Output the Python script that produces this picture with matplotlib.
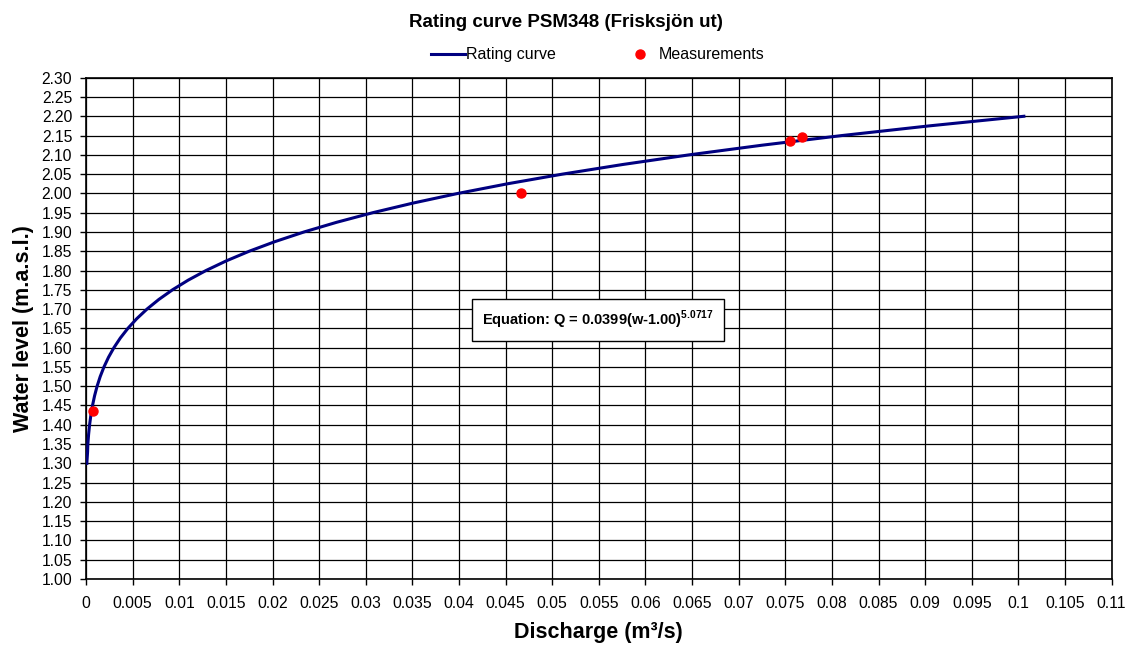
import matplotlib
matplotlib.use('Agg')
import matplotlib.pyplot as plt
from matplotlib.ticker import MultipleLocator, FuncFormatter

plt.rcParams['font.family'] = ['Liberation Sans', 'DejaVu Sans']
plt.rcParams['mathtext.fontset'] = 'custom'
plt.rcParams['mathtext.rm'] = 'Liberation Sans'
plt.rcParams['mathtext.bf'] = 'Liberation Sans:bold'

# rating curve points (water level, discharge)
curve_level = [1.30, 1.31, 1.32, 1.33, 1.35, 1.375, 1.40, 1.425, 1.45, 1.475, 1.50, 1.525,
               1.55, 1.575, 1.60, 1.625, 1.65, 1.675, 1.70, 1.725, 1.75, 1.775, 1.80, 1.825,
               1.85, 1.875, 1.90, 1.925, 1.95, 1.975, 2.00, 2.025, 2.05, 2.075, 2.10, 2.125,
               2.15, 2.175, 2.20]
curve_q = [0.000089, 0.000113, 0.000140, 0.000167, 0.000194, 0.000276, 0.000382, 0.000520,
           0.000695, 0.000915, 0.001187, 0.001520, 0.001924, 0.002411, 0.002992, 0.003679,
           0.004488, 0.005436, 0.006538, 0.007810, 0.009276, 0.010954, 0.012867, 0.015041,
           0.017499, 0.020271, 0.023383, 0.026868, 0.030760, 0.035092, 0.039900, 0.045223,
           0.051102, 0.057580, 0.064700, 0.072511, 0.081062, 0.090401, 0.100588]

# measurements
meas_q = [0.0007, 0.0467, 0.0755, 0.0768]
meas_level = [1.435, 2.00, 2.135, 2.145]

fig = plt.figure(figsize=(11.32, 6.46), dpi=100)
ax = fig.add_axes([0.076, 0.1037, 0.906, 0.776])

ax.plot(curve_q, curve_level, color='#000080', lw=2.2, label='Rating curve', zorder=3)
ax.plot(meas_q, meas_level, 'o', color='#ff0000', ms=6.5, label='Measurements', zorder=4)

ax.set_xlim(0, 0.11)
ax.set_ylim(1.0, 2.3)
ax.xaxis.set_major_locator(MultipleLocator(0.005))
ax.yaxis.set_major_locator(MultipleLocator(0.05))
ax.xaxis.set_major_formatter(FuncFormatter(lambda v, p: ('%.3f' % v).rstrip('0').rstrip('.') if v else '0'))
ax.yaxis.set_major_formatter(FuncFormatter(lambda v, p: '%.2f' % v))
ax.tick_params(direction='out', length=4, width=1, labelsize=11.3, colors='black')
ax.tick_params(axis='x', pad=8)
ax.tick_params(axis='y', pad=6)
ax.grid(True, color='black', lw=0.9)
ax.set_axisbelow(True)
for s in ax.spines.values():
    s.set_linewidth(1.2)
    s.set_color('black')

ax.set_xlabel('Discharge (m³/s)', fontsize=15.5, fontweight='bold', labelpad=8)
ax.set_ylabel('Water level (m.a.s.l.)', fontsize=15.5, fontweight='bold', labelpad=5)
fig.suptitle('Rating curve PSM348 (Frisksjön ut)', fontsize=13.5, fontweight='bold', y=0.978)

fig.legend(loc='center', bbox_to_anchor=(0.528, 0.915), ncol=2, frameon=False, fontsize=11.5,
           handlelength=2.1, handletextpad=0.1, columnspacing=4.2)

ax.text(0.0549, 1.672, r'Equation: Q = 0.0399(w-1.00)$^{\mathbf{5.0717}}$', fontsize=10.5,
        fontweight='bold', ha='center', va='center', zorder=5,
        bbox=dict(boxstyle='square,pad=0.7', fc='white', ec='black', lw=1))

fig.savefig('out.png', dpi=100)
